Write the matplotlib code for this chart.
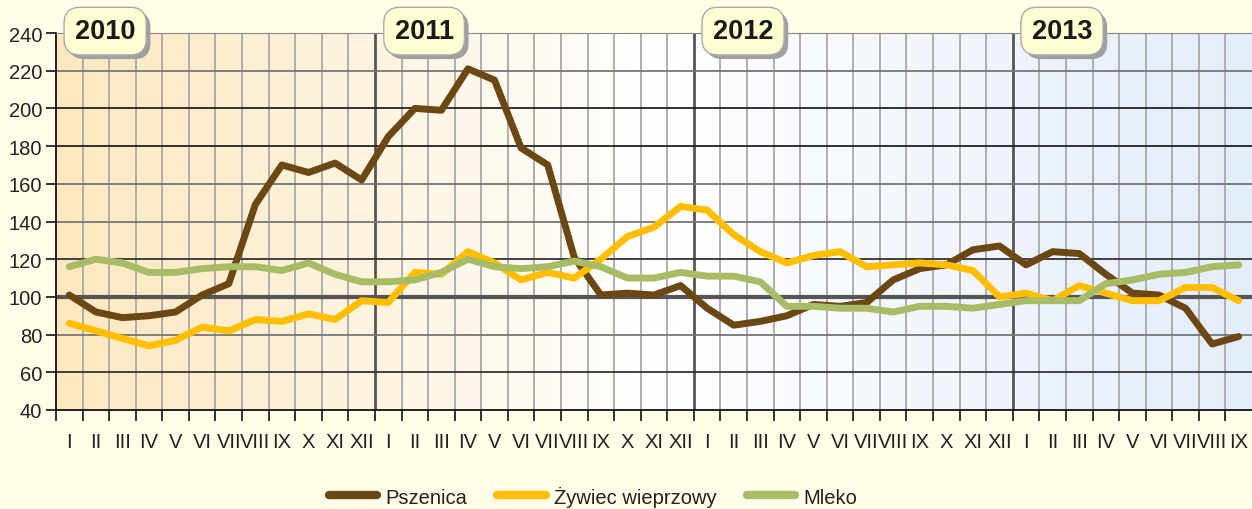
import numpy as np
import matplotlib.pyplot as plt
from matplotlib import patheffects

plt.rcParams['font.family'] = ['Liberation Sans', 'DejaVu Sans']

# dane: indeksy miesieczne I 2010 - IX 2013
years = ['2010', '2011', '2012', '2013']
months = ['I', 'II', 'III', 'IV', 'V', 'VI', 'VII', 'VIII', 'IX', 'X', 'XI', 'XII']
month_labels = months * 3 + months[:9]

pszenica = [101, 92, 89, 90, 92, 101, 107, 149, 170, 166, 171, 162,
            185, 200, 199, 221, 215, 179, 170, 121, 101, 102, 101, 106,
            94, 85, 87, 90, 96, 95, 97, 109, 115, 117, 125, 127,
            117, 124, 123, 112, 102, 101, 94, 75, 79]
zywiec = [86, 82, 78, 74, 77, 84, 82, 88, 87, 91, 88, 98,
          97, 113, 112, 124, 118, 109, 113, 110, 120, 132, 137, 148,
          146, 133, 124, 118, 122, 124, 116, 117, 118, 117, 114, 100,
          102, 98, 106, 102, 98, 98, 105, 105, 98]
mleko = [116, 120, 118, 113, 113, 115, 116, 116, 114, 118, 112, 108,
         108, 109, 113, 120, 116, 115, 116, 119, 116, 110, 110, 113,
         111, 111, 108, 95, 95, 94, 94, 92, 95, 95, 94, 96,
         98, 98, 98, 107, 109, 112, 113, 116, 117]

series = [('Pszenica', pszenica, '#6B4713'),
          ('Żywiec wieprzowy', zywiec, '#FFBF00'),
          ('Mleko', mleko, '#A8BC65')]

n = len(month_labels)
x = np.arange(n) + 0.5

fig = plt.figure(figsize=(12.52, 5.10), dpi=100, facecolor='#FFFDE8')
ax = fig.add_axes([56/1252, 1-411/510, 1-56/1252, (411-34)/510])
ax.set_xlim(0, n)
ax.set_ylim(40, 240)

# tlo z gradientem
t = np.linspace(0, 1, 400)
c_left = np.array([253, 232, 190]) / 255
c_mid = np.array([255, 255, 255]) / 255
c_right = np.array([228, 237, 250]) / 255
grad = np.zeros((1, len(t), 3))
for i, v in enumerate(t):
    if v < 0.5:
        grad[0, i] = c_left + (c_mid - c_left) * (v / 0.5)
    else:
        grad[0, i] = c_mid + (c_right - c_mid) * ((v - 0.5) / 0.5)
ax.imshow(grad, extent=(0, n, 40, 240), aspect='auto', zorder=0, interpolation='bilinear')

# siatka
for b in range(1, n):
    if b % 12 == 0:
        ax.axvline(b, color='#555555', lw=2, zorder=1)
    else:
        ax.axvline(b, color='#a8a8a8', lw=1.3, zorder=1)
hcol = {60: '#333333', 80: '#777777', 120: '#333333', 140: '#777777',
        160: '#777777', 180: '#222222', 200: '#222222', 220: '#777777'}
for yv, c in hcol.items():
    ax.axhline(yv, color=c, lw=1.3, zorder=1)
ax.axhline(100, color='#555555', lw=3, zorder=1)

for name, vals, col in series:
    ax.plot(x, vals, color=col, lw=5, label=name, zorder=3,
            solid_joinstyle='round', solid_capstyle='round')

ax.spines['right'].set_visible(False)
ax.spines['top'].set_color('#888888')
ax.spines['left'].set_color('#111111')
ax.spines['bottom'].set_color('#111111')
ax.spines['left'].set_linewidth(1.3)
ax.spines['bottom'].set_linewidth(1.3)

ax.set_yticks(range(40, 241, 20))
ax.tick_params(axis='y', length=7, width=1.3, pad=3, labelsize=14.5, colors='#222222')
ax.set_xticks(range(0, n))
ax.set_xticks(x, minor=True)
ax.set_xticklabels([''] * n)
ax.set_xticklabels(month_labels, minor=True)
ax.tick_params(axis='x', which='major', length=8, width=1.3, color='#222222')
ax.tick_params(axis='x', which='minor', length=0, pad=16, labelsize=14.5, labelcolor='#222222')

# etykiety lat
for i, yr in enumerate(years):
    xc = i * 12 + 1.85
    txt = ax.text(xc, 241, yr, ha='center', va='center', fontsize=19.5, fontweight='bold',
                  color='#1a1a1a', zorder=6, clip_on=False,
                  bbox=dict(boxstyle='round,pad=0.4,rounding_size=0.6', fc='#FFFDD2', ec='#aaaaaa', lw=1))
    txt.get_bbox_patch().set_path_effects([
        patheffects.SimplePatchShadow(offset=(3, -3), shadow_rgbFace='#a0a0a0', alpha=1),
        patheffects.Normal()])

fig.legend(loc='center', bbox_to_anchor=(593/1252, 1-497/510), ncol=3, frameon=False,
           fontsize=14.5, handlelength=2.4, handletextpad=0.4, columnspacing=1.5,
           labelcolor='#222222')
for line in fig.legends[0].get_lines():
    line.set_linewidth(6)

fig.savefig('out.png', dpi=100, facecolor=fig.get_facecolor())
